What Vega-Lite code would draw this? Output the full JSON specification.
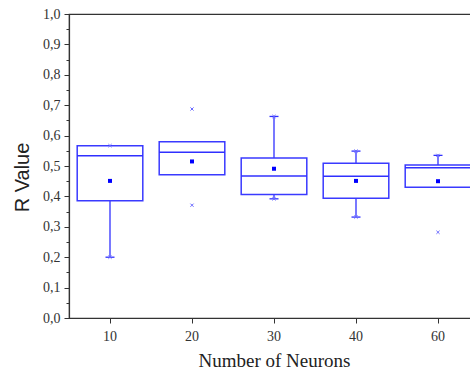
{
  "$schema": "https://vega.github.io/schema/vega-lite/v6.json",
  "autosize": "none",
  "padding": {"left": 69, "top": 14, "right": 0, "bottom": 58},
  "width": 410,
  "height": 304,
  "background": "white",
  "config": {
    "view": {"stroke": "#333333", "strokeWidth": 1.2}
  },
  "datasets": {
    "boxes": [
      {"n": "10", "q1": 0.386, "median": 0.534, "q3": 0.567, "mean": 0.451},
      {"n": "20", "q1": 0.471, "median": 0.545, "q3": 0.580, "mean": 0.515},
      {"n": "30", "q1": 0.406, "median": 0.467, "q3": 0.526, "mean": 0.491},
      {"n": "40", "q1": 0.394, "median": 0.466, "q3": 0.509, "mean": 0.451},
      {"n": "60", "q1": 0.430, "median": 0.494, "q3": 0.503, "mean": 0.450}
    ],
    "whiskers": [
      {"n": "10", "from": 0.386, "to": 0.200},
      {"n": "30", "from": 0.526, "to": 0.663},
      {"n": "30", "from": 0.406, "to": 0.392},
      {"n": "40", "from": 0.509, "to": 0.549},
      {"n": "40", "from": 0.394, "to": 0.332},
      {"n": "60", "from": 0.503, "to": 0.535}
    ],
    "markers": [
      {"n": "10", "value": 0.567},
      {"n": "10", "value": 0.200},
      {"n": "20", "value": 0.6875},
      {"n": "20", "value": 0.371},
      {"n": "30", "value": 0.663},
      {"n": "30", "value": 0.392},
      {"n": "40", "value": 0.549},
      {"n": "40", "value": 0.332},
      {"n": "60", "value": 0.535},
      {"n": "60", "value": 0.282}
    ]
  },
  "encoding": {
    "x": {"field": "n", "type": "ordinal", "sort": ["10", "20", "30", "40", "60"],
      "scale": {"type": "band", "domain": ["10", "20", "30", "40", "60"], "paddingInner": 0, "paddingOuter": 0},
      "axis": {"title": "Number of Neurons", "labelAngle": 0, "labelFont": "Liberation Serif", "labelColor": "#333333", "labelFontSize": 14, "titleFont": "Liberation Serif", "titleColor": "#222222", "titleFontSize": 19, "titleFontWeight": "normal", "tickSize": 5, "tickColor": "#333333", "domainColor": "#333333", "labelPadding": 6, "titlePadding": 8, "domainWidth": 1.2}}
  },
  "layer": [
    {
      "data": {"name": "whiskers"},
      "mark": {"type": "rule", "color": "#3030ff", "strokeWidth": 1.3},
      "encoding": {
        "y": {"field": "from", "type": "quantitative", "scale": {"domain": [0, 1], "nice": false, "zero": true},
          "axis": {"title": "R Value", "titleFont": "Liberation Sans", "titleColor": "#222222", "titleFontSize": 20, "titleFontWeight": "normal", "titlePadding": 10, "titleY": 163, "values": [0, 0.05, 0.1, 0.15, 0.2, 0.25, 0.3, 0.35, 0.4, 0.45, 0.5, 0.55, 0.6, 0.65, 0.7, 0.75, 0.8, 0.85, 0.9, 0.95, 1.0], "labelExpr": "abs(datum.value*10 - round(datum.value*10)) < 0.01 ? replace(format(datum.value, '.1f'), '.', ',') : ''", "labelOverlap": false, "labelFont": "Liberation Serif", "labelColor": "#333333", "labelFontSize": 14, "labelPadding": 4, "tickSize": {"condition": {"test": "abs(datum.value*10 - round(datum.value*10)) < 0.01", "value": 5}, "value": 3}, "tickColor": "#333333", "domainColor": "#333333", "domainWidth": 1.2, "grid": false}},
        "y2": {"field": "to"}
      }
    },
    {
      "data": {"name": "boxes"},
      "mark": {"type": "bar", "fill": "white", "stroke": "#3a3aff", "strokeWidth": 1.5, "width": {"band": 0.8}},
      "encoding": {
        "y": {"field": "q1", "type": "quantitative",
          "axis": {"title": "R Value", "titleFont": "Liberation Sans", "titleColor": "#222222", "titleFontSize": 20, "titleFontWeight": "normal", "titlePadding": 10, "titleY": 163, "values": [0, 0.05, 0.1, 0.15, 0.2, 0.25, 0.3, 0.35, 0.4, 0.45, 0.5, 0.55, 0.6, 0.65, 0.7, 0.75, 0.8, 0.85, 0.9, 0.95, 1.0], "labelExpr": "abs(datum.value*10 - round(datum.value*10)) < 0.01 ? replace(format(datum.value, '.1f'), '.', ',') : ''", "labelOverlap": false, "labelFont": "Liberation Serif", "labelColor": "#333333", "labelFontSize": 14, "labelPadding": 4, "tickSize": {"condition": {"test": "abs(datum.value*10 - round(datum.value*10)) < 0.01", "value": 5}, "value": 3}, "tickColor": "#333333", "domainColor": "#333333", "domainWidth": 1.2, "grid": false}},
        "y2": {"field": "q3"}
      }
    },
    {
      "data": {"name": "boxes"},
      "mark": {"type": "tick", "color": "#3030ff", "thickness": 1.5, "size": 66, "opacity": 1},
      "encoding": {
        "y": {"field": "median", "type": "quantitative",
          "axis": {"title": "R Value", "titleFont": "Liberation Sans", "titleColor": "#222222", "titleFontSize": 20, "titleFontWeight": "normal", "titlePadding": 10, "titleY": 163, "values": [0, 0.05, 0.1, 0.15, 0.2, 0.25, 0.3, 0.35, 0.4, 0.45, 0.5, 0.55, 0.6, 0.65, 0.7, 0.75, 0.8, 0.85, 0.9, 0.95, 1.0], "labelExpr": "abs(datum.value*10 - round(datum.value*10)) < 0.01 ? replace(format(datum.value, '.1f'), '.', ',') : ''", "labelOverlap": false, "labelFont": "Liberation Serif", "labelColor": "#333333", "labelFontSize": 14, "labelPadding": 4, "tickSize": {"condition": {"test": "abs(datum.value*10 - round(datum.value*10)) < 0.01", "value": 5}, "value": 3}, "tickColor": "#333333", "domainColor": "#333333", "domainWidth": 1.2, "grid": false}}
      }
    },
    {
      "data": {"name": "whiskers"},
      "transform": [{"filter": "datum.to != datum.from"}],
      "mark": {"type": "tick", "color": "#3030ff", "thickness": 1.3, "size": 9, "opacity": 1},
      "encoding": {
        "y": {"field": "to", "type": "quantitative",
          "axis": {"title": "R Value", "titleFont": "Liberation Sans", "titleColor": "#222222", "titleFontSize": 20, "titleFontWeight": "normal", "titlePadding": 10, "titleY": 163, "values": [0, 0.05, 0.1, 0.15, 0.2, 0.25, 0.3, 0.35, 0.4, 0.45, 0.5, 0.55, 0.6, 0.65, 0.7, 0.75, 0.8, 0.85, 0.9, 0.95, 1.0], "labelExpr": "abs(datum.value*10 - round(datum.value*10)) < 0.01 ? replace(format(datum.value, '.1f'), '.', ',') : ''", "labelOverlap": false, "labelFont": "Liberation Serif", "labelColor": "#333333", "labelFontSize": 14, "labelPadding": 4, "tickSize": {"condition": {"test": "abs(datum.value*10 - round(datum.value*10)) < 0.01", "value": 5}, "value": 3}, "tickColor": "#333333", "domainColor": "#333333", "domainWidth": 1.2, "grid": false}}
      }
    },
    {
      "data": {"name": "markers"},
      "mark": {"type": "point", "shape": "M-1,-1L1,1M1,-1L-1,1", "stroke": "#6a6aff", "strokeWidth": 1, "size": 10, "filled": false, "opacity": 1},
      "encoding": {
        "y": {"field": "value", "type": "quantitative",
          "axis": {"title": "R Value", "titleFont": "Liberation Sans", "titleColor": "#222222", "titleFontSize": 20, "titleFontWeight": "normal", "titlePadding": 10, "titleY": 163, "values": [0, 0.05, 0.1, 0.15, 0.2, 0.25, 0.3, 0.35, 0.4, 0.45, 0.5, 0.55, 0.6, 0.65, 0.7, 0.75, 0.8, 0.85, 0.9, 0.95, 1.0], "labelExpr": "abs(datum.value*10 - round(datum.value*10)) < 0.01 ? replace(format(datum.value, '.1f'), '.', ',') : ''", "labelOverlap": false, "labelFont": "Liberation Serif", "labelColor": "#333333", "labelFontSize": 14, "labelPadding": 4, "tickSize": {"condition": {"test": "abs(datum.value*10 - round(datum.value*10)) < 0.01", "value": 5}, "value": 3}, "tickColor": "#333333", "domainColor": "#333333", "domainWidth": 1.2, "grid": false}}
      }
    },
    {
      "data": {"name": "boxes"},
      "mark": {"type": "square", "color": "#0000ff", "size": 16, "opacity": 1},
      "encoding": {
        "y": {"field": "mean", "type": "quantitative",
          "axis": {"title": "R Value", "titleFont": "Liberation Sans", "titleColor": "#222222", "titleFontSize": 20, "titleFontWeight": "normal", "titlePadding": 10, "titleY": 163, "values": [0, 0.05, 0.1, 0.15, 0.2, 0.25, 0.3, 0.35, 0.4, 0.45, 0.5, 0.55, 0.6, 0.65, 0.7, 0.75, 0.8, 0.85, 0.9, 0.95, 1.0], "labelExpr": "abs(datum.value*10 - round(datum.value*10)) < 0.01 ? replace(format(datum.value, '.1f'), '.', ',') : ''", "labelOverlap": false, "labelFont": "Liberation Serif", "labelColor": "#333333", "labelFontSize": 14, "labelPadding": 4, "tickSize": {"condition": {"test": "abs(datum.value*10 - round(datum.value*10)) < 0.01", "value": 5}, "value": 3}, "tickColor": "#333333", "domainColor": "#333333", "domainWidth": 1.2, "grid": false}}
      }
    }
  ]
}
